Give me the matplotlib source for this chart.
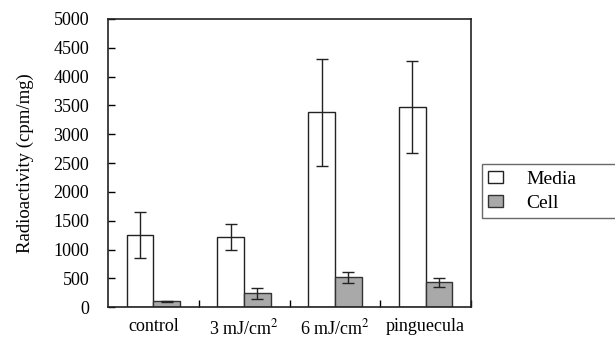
import matplotlib
matplotlib.use('Agg')
import matplotlib.pyplot as plt
import numpy as np

categories = ['control', '3 mJ/cm$^2$', '6 mJ/cm$^2$', 'pinguecula']
media = [1250, 1215, 3380, 3470]
media_err = [395, 225, 925, 800]
cell = [105, 240, 525, 435]
cell_err = [12, 95, 95, 80]
y_ticks = [0, 500, 1000, 1500, 2000, 2500, 3000, 3500, 4000, 4500, 5000]

plt.rcParams['font.family'] = ['Liberation Serif', 'DejaVu Serif']
plt.rcParams['mathtext.fontset'] = 'stix'

fig = plt.figure(figsize=(6.15, 3.46), dpi=100)
ax = fig.add_axes([0.1756, 0.1118, 0.5903, 0.8333])

x = np.arange(len(categories))
w = 0.294
err_kw = dict(ecolor='#222222', elinewidth=1.0, capsize=4, capthick=1.0)
b1 = ax.bar(x - w / 2, media, w, yerr=media_err, color='white',
            edgecolor='#222222', linewidth=1.0, error_kw=err_kw, label='Media')
b2 = ax.bar(x + w / 2, cell, w, yerr=cell_err, color='#a9a9a9',
            edgecolor='#333333', linewidth=1.0, error_kw=err_kw, label='Cell')

ax.set_xlim(-0.5, 3.5)
ax.set_ylim(0, 5000)
ax.set_yticks(y_ticks)
ax.tick_params(axis='y', direction='in', length=5, width=1, labelsize=13, pad=13.5)
ax.set_xticks(x)
ax.set_xticklabels(categories, fontsize=13)
ax.tick_params(axis='x', length=0, pad=8)
# small up-pointing ticks at the category boundaries
ax.set_xticks(np.arange(0.5, 4.0, 1.0), minor=True)
ax.tick_params(axis='x', which='minor', direction='in', length=5, width=1)

for s in ax.spines.values():
    s.set_color('#222222')
    s.set_linewidth(1.2)

ax.set_ylabel('Radioactivity (cpm/mg)', fontsize=13.5)
ax.yaxis.set_label_coords(-0.205, 0.5)

leg = fig.legend(handles=[b1, b2], labels=['Media', 'Cell'],
                 loc='upper left', bbox_to_anchor=(0.783, 0.364, 0.3, 0.162),
                 mode='expand', fontsize=14, frameon=True, fancybox=False,
                 handlelength=0.75, handleheight=0.6, handletextpad=1.2,
                 borderpad=0.35, labelspacing=0.35, borderaxespad=0)
leg.get_frame().set_edgecolor('#444444')
leg.get_frame().set_linewidth(1.0)

fig.savefig('out.png', dpi=100)
